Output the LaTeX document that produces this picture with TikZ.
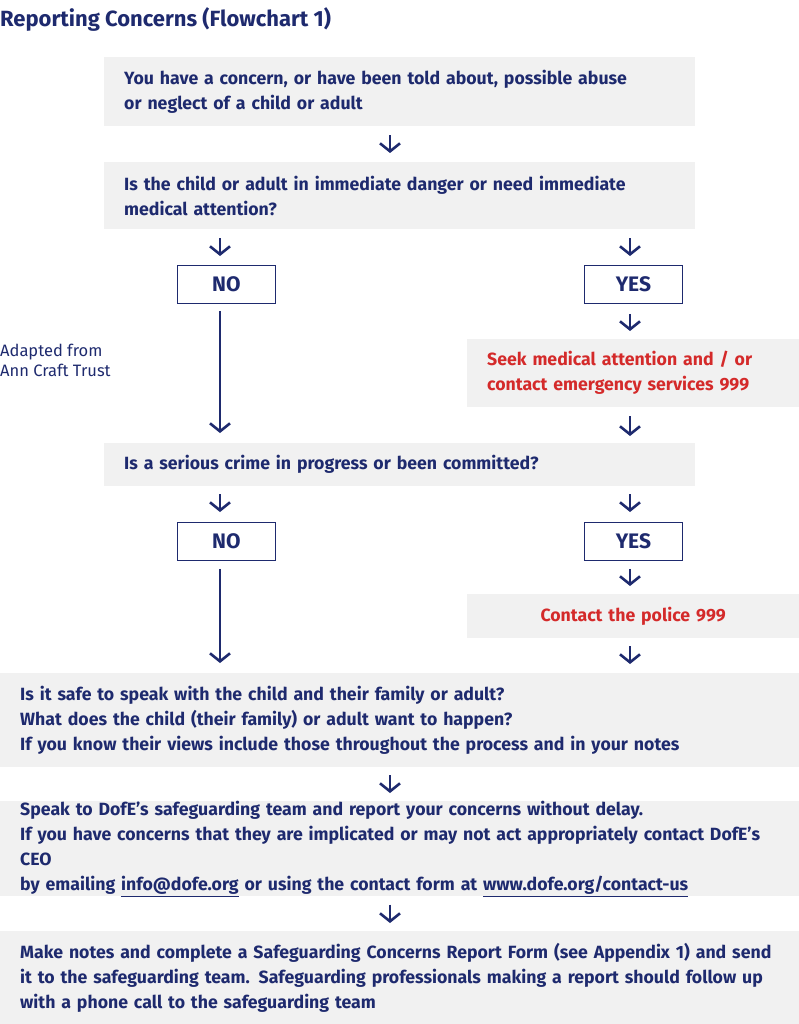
\documentclass[tikz,border=0pt]{standalone}
\usepackage{fontspec}
\setmainfont{Fira Sans}
\usetikzlibrary{positioning,arrows.meta}
\definecolor{navy}{HTML}{1E2A6E}
\definecolor{alarm}{HTML}{D42A2A}
\definecolor{panel}{HTML}{F1F1F1}
\tikzset{
  box/.style={fill=panel, anchor=north west, inner ysep=0pt, inner xsep=20pt, align=left,
    font=\fontsize{17.7}{25}\selectfont\bfseries, text=navy},
  choice/.style={draw=navy, line width=0.8pt, minimum width=98pt, minimum height=38pt,
    anchor=north west, font=\fontsize{21}{22}\selectfont\bfseries, text=navy},
  flow/.style={draw=navy, line width=2.6pt, -{Straight Barb[length=8pt,width=20pt,line width=2.6pt]}},
}
\begin{document}
\begin{tikzpicture}[x=1pt,y=-1pt]
\useasboundingbox (0,0) rectangle (799,1024);
\node[anchor=west, text=navy, font=\fontsize{22}{24}\selectfont\bfseries, inner sep=0pt] (title) at (0,19) {Reporting Concerns (Flowchart 1)};
\node[box, text width=551pt, minimum height=69pt] (concern) at (104,57) {You have a concern, or have been told about, possible abuse\\or neglect of a child or adult};
\node[box, text width=551pt, minimum height=67pt] (danger) at (104,162) {Is the child or adult in immediate danger or need immediate\\medical attention?};
\node[choice] (no1) at (177,265) {NO};
\node[choice] (yes1) at (584,265) {YES};
\node[box, text width=292pt, minimum height=68pt, text=alarm] (medical) at (467,339) {Seek medical attention and / or\\contact emergency services 999};
\node[anchor=north west, align=left, text=navy, font=\fontsize{16.5}{20}\selectfont, inner sep=0pt] (credit) at (0,344) {Adapted from\\Ann Craft Trust};
\node[box, text width=551pt, minimum height=43pt] (crime) at (104,443) {Is a serious crime in progress or been committed?};
\node[choice] (no2) at (177,522) {NO};
\node[choice] (yes2) at (584,522) {YES};
\node[box, text width=292pt, minimum height=44pt, text=alarm, align=center] (police) at (467,594) {Contact the police 999};
\node[box, text width=759pt, minimum height=94pt] (safe) at (0,673) {Is it safe to speak with the child and their family or adult?\\What does the child (their family) or adult want to happen?\\If you know their views include those throughout the process and in your notes};
\node[box, text width=759pt, minimum height=94pt] (team) at (0,801) {Speak to DofE’s safeguarding team and report your concerns without delay.\\If you have concerns that they are implicated or may not act appropriately contact DofE’s CEO\\by emailing \underline{info@dofe.org} or using the contact form at \underline{www.dofe.org/contact-us}};
\node[box, text width=759pt, minimum height=93pt] (notes) at (0,931) {Make notes and complete a Safeguarding Concerns Report Form (see Appendix 1) and send\\it to the safeguarding team. Safeguarding professionals making a report should follow up\\with a phone call to the safeguarding team};
% connectors
\coordinate (mid) at (390,0);
\coordinate (left) at (220,0);
\coordinate (right) at (630,0);
\draw[flow, shorten <=9pt, shorten >=9pt] (concern.south -| mid) -- (danger.north -| mid);
\draw[flow, shorten <=9pt, shorten >=9pt] (danger.south -| left) -- (no1.north -| left);
\draw[flow, shorten <=9pt, shorten >=9pt] (danger.south -| right) -- (yes1.north -| right);
\draw[flow, shorten <=10pt, shorten >=8pt] (yes1.south -| right) -- (medical.north -| right);
\draw[flow, shorten <=7pt, shorten >=10pt] (no1.south -| left) -- (crime.north -| left);
\draw[flow, shorten <=9pt, shorten >=7pt] (medical.south -| right) -- (crime.north -| right);
\draw[flow, shorten <=8pt, shorten >=10pt] (crime.south -| left) -- (no2.north -| left);
\draw[flow, shorten <=8pt, shorten >=10pt] (crime.south -| right) -- (yes2.north -| right);
\draw[flow, shorten <=8pt, shorten >=8pt] (yes2.south -| right) -- (police.north -| right);
\draw[flow, shorten <=8pt, shorten >=10pt] (no2.south -| left) -- (safe.north -| left);
\draw[flow, shorten <=8pt, shorten >=9pt] (police.south -| right) -- (safe.north -| right);
\draw[flow, shorten <=8pt, shorten >=8pt] (safe.south -| mid) -- (team.north -| mid);
\draw[flow, shorten <=8pt, shorten >=8pt] (team.south -| mid) -- (notes.north -| mid);
\end{tikzpicture}
\end{document}
